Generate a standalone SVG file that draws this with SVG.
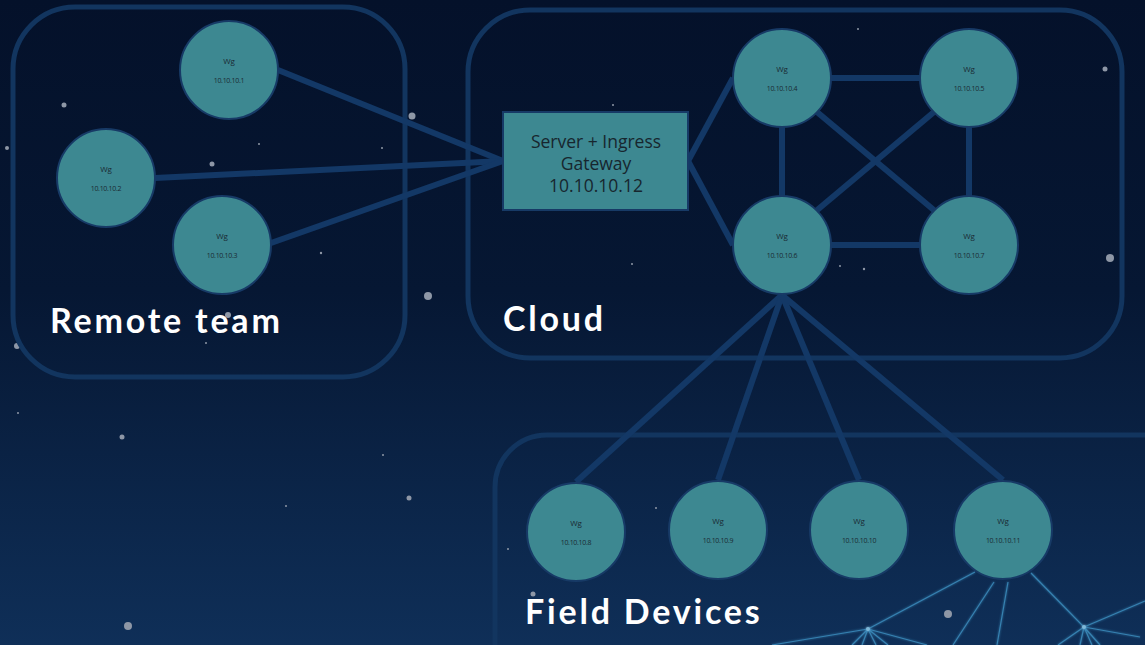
<svg xmlns="http://www.w3.org/2000/svg" width="1145" height="645" viewBox="0 0 1145 645">
<defs>
<linearGradient id="bg" x1="0" y1="0" x2="0" y2="1">
<stop offset="0" stop-color="#04112a"/>
<stop offset="0.45" stop-color="#061733"/>
<stop offset="1" stop-color="#0f2f58"/>
</linearGradient>
<filter id="glow" x="-20%" y="-20%" width="140%" height="140%">
<feGaussianBlur stdDeviation="1.2" result="b"/>
<feMerge><feMergeNode in="b"/><feMergeNode in="SourceGraphic"/></feMerge>
</filter>
</defs>
<style>
.grp{fill:none;stroke:#12355f;stroke-width:5}
.edge{stroke:#133866;stroke-width:6;fill:none}
.node circle{fill:#3d8891;stroke:#173a66;stroke-width:2}
.wg{font-family:"Open Sans","DejaVu Sans",sans-serif;font-size:8px;fill:#1a2a33;text-anchor:middle}
.ip{font-family:"Open Sans","DejaVu Sans",sans-serif;font-size:7px;fill:#1a2a33;text-anchor:middle;letter-spacing:-0.3px}
.big{font-family:Lato,"Open Sans",sans-serif;font-weight:bold;font-size:34px;fill:#ffffff;letter-spacing:2.8px}
.srv{font-family:"Open Sans",Lato,sans-serif;font-size:17.5px;fill:#17262e;text-anchor:middle}
.star{fill:#8e97a6}
.net{stroke:#3d90c0;stroke-width:1.2;fill:none;opacity:0.8}
</style>
<rect width="1145" height="645" fill="url(#bg)"/>
<g id="stars">
<circle class="star" cx="64" cy="105" r="2.5"/>
<circle class="star" cx="7" cy="148" r="2"/>
<circle class="star" cx="212" cy="164" r="2.5"/>
<circle class="star" cx="412" cy="116" r="3.5"/>
<circle class="star" cx="428" cy="296" r="4"/>
<circle class="star" cx="17" cy="346" r="3"/>
<circle class="star" cx="228" cy="315" r="3"/>
<circle class="star" cx="122" cy="437" r="2.5"/>
<circle class="star" cx="409" cy="498" r="2.5"/>
<circle class="star" cx="1105" cy="69" r="2.5"/>
<circle class="star" cx="1110" cy="258" r="4"/>
<circle class="star" cx="948" cy="614" r="4"/>
<circle class="star" cx="128" cy="626" r="4"/>
<circle class="star" cx="533" cy="594" r="2.5"/>
<circle class="star" cx="259" cy="144" r="1"/>
<circle class="star" cx="382" cy="148" r="1"/>
<circle class="star" cx="321" cy="253" r="1.2"/>
<circle class="star" cx="206" cy="343" r="1"/>
<circle class="star" cx="858" cy="29" r="1"/>
<circle class="star" cx="613" cy="105" r="1"/>
<circle class="star" cx="632" cy="264" r="1"/>
<circle class="star" cx="840" cy="266" r="1"/>
<circle class="star" cx="864" cy="269" r="1.2"/>
<circle class="star" cx="18" cy="413" r="1"/>
<circle class="star" cx="383" cy="455" r="1"/>
<circle class="star" cx="286" cy="506" r="1"/>
<circle class="star" cx="508" cy="549" r="1"/>
<circle class="star" cx="656" cy="508" r="1"/>
</g>
<g id="background-net" filter="url(#glow)">
<path class="net" d="M868 629 L975 572 M868 629 L772 645 M868 629 L927 645 M868 629 L852 645 M868 629 L862 645 M868 629 L876 645 M868 629 L888 645"/>
<path class="net" d="M994 582 L953 645 M1008 582 L997 645 M1031 573 L1084 627 L1092 645 M1084 627 L1145 601 M1084 627 L1140 637 M1084 627 L1058 645 M1084 627 L1100 645 M1084 627 L1080 645"/>
<circle cx="868" cy="629" r="2" fill="#7fb8d8"/>
<circle cx="1084" cy="627" r="2" fill="#7fb8d8"/>
</g>
<g id="group-remote-team">
<rect class="grp" x="13" y="7" width="392" height="370" rx="62"/>
<text class="big" x="50" y="333">Remote team</text>
</g>
<g id="group-cloud">
<rect class="grp" x="468" y="10" width="654" height="348" rx="62"/>
<text class="big" x="503" y="331">Cloud</text>
</g>
<g id="group-field-devices">
<rect class="grp" x="495" y="435" width="700" height="260" rx="52"/>
<text class="big" x="525" y="624">Field Devices</text>
</g>
<g id="connectors">
<line class="edge" x1="278" y1="70" x2="503" y2="161"/>
<line class="edge" x1="155" y1="178" x2="503" y2="161"/>
<line class="edge" x1="271" y1="243" x2="503" y2="161"/>
<line class="edge" x1="688" y1="161" x2="733" y2="78"/>
<line class="edge" x1="688" y1="161" x2="733" y2="245"/>
<line class="edge" x1="831" y1="78" x2="920" y2="78"/>
<line class="edge" x1="782" y1="127" x2="782" y2="196"/>
<line class="edge" x1="969" y1="127" x2="969" y2="196"/>
<line class="edge" x1="831" y1="245" x2="920" y2="245"/>
<line class="edge" x1="817" y1="112" x2="935" y2="211"/>
<line class="edge" x1="934" y1="112" x2="816" y2="211"/>
<line class="edge" x1="782" y1="295" x2="576" y2="482"/>
<line class="edge" x1="782" y1="295" x2="718" y2="480"/>
<line class="edge" x1="782" y1="295" x2="859" y2="480"/>
<line class="edge" x1="782" y1="295" x2="1003" y2="480"/>
</g>
<g id="node-10-10-10-1" class="node"><circle cx="229" cy="70" r="49"/><text class="wg" x="229" y="64">Wg</text><text class="ip" x="229" y="83">10.10.10.1</text></g>
<g id="node-10-10-10-2" class="node"><circle cx="106" cy="178" r="49"/><text class="wg" x="106" y="172">Wg</text><text class="ip" x="106" y="191">10.10.10.2</text></g>
<g id="node-10-10-10-3" class="node"><circle cx="222" cy="245" r="49"/><text class="wg" x="222" y="239">Wg</text><text class="ip" x="222" y="258">10.10.10.3</text></g>
<g id="node-server" class="node">
<rect x="503" y="112" width="185" height="98" fill="#3d8891" stroke="#173a66" stroke-width="2"/>
<text class="srv" x="596" y="148">Server + Ingress</text>
<text class="srv" x="596" y="170">Gateway</text>
<text class="srv" x="596" y="192">10.10.10.12</text>
</g>
<g id="node-10-10-10-4" class="node"><circle cx="782" cy="78" r="49"/><text class="wg" x="782" y="72">Wg</text><text class="ip" x="782" y="91">10.10.10.4</text></g>
<g id="node-10-10-10-5" class="node"><circle cx="969" cy="78" r="49"/><text class="wg" x="969" y="72">Wg</text><text class="ip" x="969" y="91">10.10.10.5</text></g>
<g id="node-10-10-10-6" class="node"><circle cx="782" cy="245" r="49"/><text class="wg" x="782" y="239">Wg</text><text class="ip" x="782" y="258">10.10.10.6</text></g>
<g id="node-10-10-10-7" class="node"><circle cx="969" cy="245" r="49"/><text class="wg" x="969" y="239">Wg</text><text class="ip" x="969" y="258">10.10.10.7</text></g>
<g id="node-10-10-10-8" class="node"><circle cx="576" cy="532" r="49"/><text class="wg" x="576" y="526">Wg</text><text class="ip" x="576" y="545">10.10.10.8</text></g>
<g id="node-10-10-10-9" class="node"><circle cx="718" cy="530" r="49"/><text class="wg" x="718" y="524">Wg</text><text class="ip" x="718" y="543">10.10.10.9</text></g>
<g id="node-10-10-10-10" class="node"><circle cx="859" cy="530" r="49"/><text class="wg" x="859" y="524">Wg</text><text class="ip" x="859" y="543">10.10.10.10</text></g>
<g id="node-10-10-10-11" class="node"><circle cx="1003" cy="530" r="49"/><text class="wg" x="1003" y="524">Wg</text><text class="ip" x="1003" y="543">10.10.10.11</text></g>
</svg>
